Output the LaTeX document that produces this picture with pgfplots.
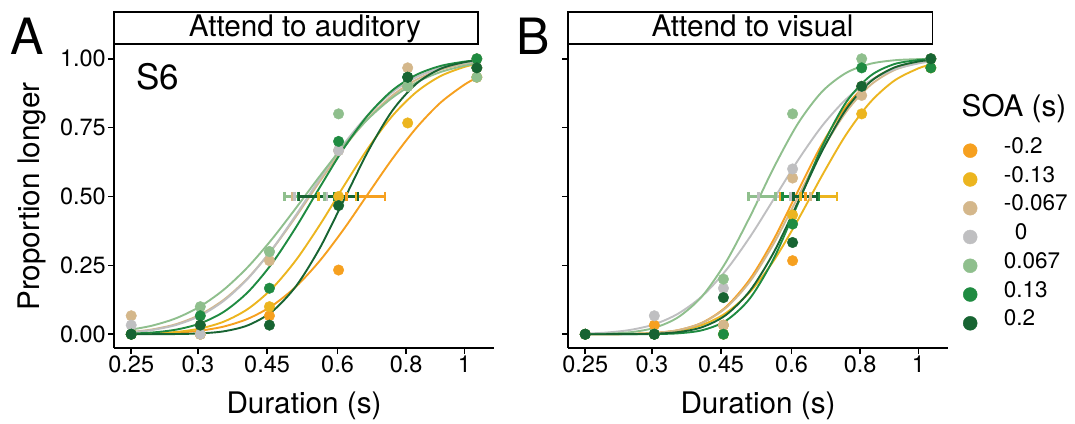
\documentclass[border=0pt]{standalone}
\usepackage{fontspec}
\setmainfont{TeX Gyre Heros}
\usepackage{pgfplots}
\usepackage{pgfplotstable}
\pgfplotsset{compat=1.18}

\definecolor{cA}{RGB}{246,160,31}
\definecolor{cB}{RGB}{236,181,31}
\definecolor{cC}{RGB}{212,183,139}
\definecolor{cD}{RGB}{191,191,193}
\definecolor{cE}{RGB}{143,191,141}
\definecolor{cF}{RGB}{31,139,65}
\definecolor{cG}{RGB}{23,100,50}

\newcommand\fs[1]{\fontsize{#1}{#1}\selectfont}

% fitted psychometric curves, panel A (attend to auditory)
\pgfplotstableread{
d      m20    m13    m067   z      p067   p13    p20
0.25   0.0008 0.0011 0.0083 0.0071 0.0170 0.0024 0.0000
0.2725 0.0020 0.0030 0.0173 0.0152 0.0310 0.0061 0.0001
0.3012 0.0054 0.0082 0.0364 0.0335 0.0579 0.0166 0.0007
0.3329 0.0129 0.0207 0.0709 0.0668 0.1006 0.0391 0.0030
0.3679 0.0281 0.0460 0.1258 0.1219 0.1625 0.0819 0.0107
0.4066 0.0564 0.0922 0.2047 0.2027 0.2449 0.1536 0.0327
0.4493 0.1032 0.1661 0.3074 0.3085 0.3457 0.2575 0.0822
0.4966 0.1734 0.2698 0.4282 0.4337 0.4590 0.3894 0.1750
0.5488 0.2682 0.3987 0.5565 0.5663 0.5757 0.5354 0.3150
0.6065 0.3833 0.5398 0.6789 0.6915 0.6860 0.6770 0.4892
0.6703 0.5104 0.6760 0.7842 0.7973 0.7820 0.7964 0.6651
0.7408 0.6360 0.7920 0.8664 0.8781 0.8583 0.8849 0.8109
0.8187 0.7486 0.8789 0.9237 0.9332 0.9141 0.9416 0.9090
0.9048 0.8400 0.9367 0.9602 0.9665 0.9515 0.9737 0.9633
1.0    0.9058 0.9703 0.9810 0.9848 0.9746 0.9896 0.9875
1.053  0.9308 0.9806 0.9875 0.9902 0.9824 0.9938 0.9934
}\curvA

% observed proportions, panel A
\pgfplotstableread{
d      m20   m13   m067  z     p067  p13   p20
0.25   0     0     0.067 0.033 0     0     0
0.3333 0     0     0.033 0     0.1   0.067 0.033
0.4444 0.067 0.1   0.267 0.3   0.3   0.167 0.033
0.5926 0.233 0.5   0.667 0.667 0.8   0.7   0.467
0.7901 0.9   0.767 0.967 0.9   0.9   0.933 0.933
1.0535 0.933 0.967 1.0   0.967 0.933 1.0   0.967
}\ptsA

% fitted psychometric curves, panel B (attend to visual)
\pgfplotstableread{
d      m20    m13    m067   z      p067   p13    p20
0.25   0.0000 0.0001 0.0001 0.0024 0.0005 0.0000 0.0000
0.2725 0.0002 0.0003 0.0003 0.0059 0.0018 0.0000 0.0001
0.3012 0.0011 0.0012 0.0012 0.0155 0.0071 0.0001 0.0004
0.3329 0.0044 0.0042 0.0046 0.0356 0.0228 0.0006 0.0018
0.3679 0.0147 0.0128 0.0149 0.0744 0.0614 0.0033 0.0076
0.4066 0.0418 0.0337 0.0412 0.1382 0.1378 0.0145 0.0256
0.4493 0.0994 0.0773 0.0962 0.2324 0.2627 0.0493 0.0702
0.4966 0.2011 0.1541 0.1924 0.3540 0.4278 0.1312 0.1587
0.5488 0.3472 0.2695 0.3320 0.4928 0.6075 0.2776 0.2998
0.6065 0.5215 0.4165 0.5000 0.6325 0.7661 0.4765 0.4809
0.6703 0.6915 0.5769 0.6680 0.7567 0.8812 0.6818 0.6659
0.7408 0.8276 0.7254 0.8076 0.8537 0.9489 0.8425 0.8172
0.8187 0.9181 0.8422 0.9038 0.9207 0.9817 0.9376 0.9162
0.9048 0.9669 0.9205 0.9588 0.9613 0.9945 0.9806 0.9682
1.0    0.9889 0.9651 0.9851 0.9831 0.9987 0.9953 0.9901
1.053  0.9941 0.9783 0.9918 0.9895 0.9994 0.9980 0.9951
}\curvB

% observed proportions, panel B
\pgfplotstableread{
d      m20   m13   m067  z     p067  p13   p20
0.25   0     0     0     0     0     0     0
0.3333 0.033 0     0     0.067 0     0     0
0.4444 0.033 0     0.033 0.167 0.2   0     0.133
0.5926 0.267 0.433 0.567 0.6   0.8   0.4   0.333
0.7901 0.9   0.8   0.867 0.9   1.0   0.967 0.9
1.0535 1.0   0.967 1.0   1.0   1.0   0.967 1.0
}\ptsB

\pgfplotsset{
  myPanel/.style={
    scale only axis, width=380pt, height=303pt,
    xmin=0.2327, xmax=1.1315, ymin=-0.05, ymax=1.05,
    axis x line*=bottom, axis y line*=left,
    axis line style={line width=1.8pt,-},
    tick align=outside, major tick length=6pt,
    tick style={line width=1.6pt, black},
    xminorticks=false, yminorticks=false,
    xtick={0.25,0.33,0.44,0.59,0.785,1},
    xticklabels={0.25,0.3,0.45,0.6,0.8,1},
    ytick={0,0.25,0.5,0.75,1},
    /pgf/number format/assume math mode=true,
    tick label style={font=\fs{23.5}, inner sep=2pt},
    clip=false,
  },
  crv/.style={smooth, line width=1.9pt, forget plot, no marks},
  ebar/.style={line width=2.3pt, mark=|, mark size=4.5pt, mark options={solid, line width=2.3pt}, forget plot},
  pts/.style={only marks, mark=*, mark size=5.3pt, forget plot},
}

\begin{document}
\begin{tikzpicture}
% ---------- Panel A ----------
\begin{axis}[xmode=log, myPanel, at={(114pt,75pt)}, anchor=south west,
  yticklabels={0.00,0.25,0.50,0.75,1.00}]
\addplot[crv,cA] table[x=d,y=m20]{\curvA};
\addplot[crv,cB] table[x=d,y=m13]{\curvA};
\addplot[crv,cC] table[x=d,y=m067]{\curvA};
\addplot[crv,cD] table[x=d,y=z]{\curvA};
\addplot[crv,cE] table[x=d,y=p067]{\curvA};
\addplot[crv,cF] table[x=d,y=p13]{\curvA};
\addplot[crv,cG] table[x=d,y=p20]{\curvA};
\addplot[ebar,cA] coordinates {(0.6126,0.5) (0.7188,0.5)};
\addplot[ebar,cB] coordinates {(0.5450,0.5) (0.6381,0.5)};
\addplot[ebar,cC] coordinates {(0.4892,0.5) (0.5634,0.5)};
\addplot[ebar,cD] coordinates {(0.4934,0.5) (0.5634,0.5)};
\addplot[ebar,cE] coordinates {(0.4733,0.5) (0.5587,0.5)};
\addplot[ebar,cF] coordinates {(0.5015,0.5) (0.5825,0.5)};
\addplot[ebar,cG] coordinates {(0.5026,0.5) (0.6424,0.5)};
\addplot[pts,cA] table[x=d,y=m20]{\ptsA};
\addplot[pts,cB] table[x=d,y=m13]{\ptsA};
\addplot[pts,cC] table[x=d,y=m067]{\ptsA};
\addplot[pts,cD] table[x=d,y=z]{\ptsA};
\addplot[pts,cE] table[x=d,y=p067]{\ptsA};
\addplot[pts,cF] table[x=d,y=p13]{\ptsA};
\addplot[pts,cG] table[x=d,y=p20]{\ptsA};
\end{axis}
% ---------- Panel B ----------
\begin{axis}[xmode=log, myPanel, at={(568pt,75pt)}, anchor=south west,
  yticklabels={},
  legend style={at={(1.040,0.6987)}, anchor=north west, draw=none, fill=none,
    inner sep=0pt, outer sep=0pt, row sep=0pt,
    font=\fs{22.5},
    nodes={inner sep=0pt, text height=17pt, text depth=11.77pt},
    /tikz/every odd column/.append style={column sep=26.7pt}},
  legend cell align=left]
\addplot[crv,cA] table[x=d,y=m20]{\curvB};
\addplot[crv,cB] table[x=d,y=m13]{\curvB};
\addplot[crv,cC] table[x=d,y=m067]{\curvB};
\addplot[crv,cD] table[x=d,y=z]{\curvB};
\addplot[crv,cE] table[x=d,y=p067]{\curvB};
\addplot[crv,cF] table[x=d,y=p13]{\curvB};
\addplot[crv,cG] table[x=d,y=p20]{\curvB};
\addplot[ebar,cA] coordinates {(0.5634,0.5) (0.6250,0.5)};
\addplot[ebar,cB] coordinates {(0.6122,0.5) (0.7139,0.5)};
\addplot[ebar,cC] coordinates {(0.5681,0.5) (0.6381,0.5)};
\addplot[ebar,cD] coordinates {(0.5143,0.5) (0.5873,0.5)};
\addplot[ebar,cE] coordinates {(0.4934,0.5) (0.5518,0.5)};
\addplot[ebar,cF] coordinates {(0.5681,0.5) (0.6597,0.5)};
\addplot[ebar,cG] coordinates {(0.5946,0.5) (0.6569,0.5)};
\addplot[pts,cA] table[x=d,y=m20]{\ptsB};
\addplot[pts,cB] table[x=d,y=m13]{\ptsB};
\addplot[pts,cC] table[x=d,y=m067]{\ptsB};
\addplot[pts,cD] table[x=d,y=z]{\ptsB};
\addplot[pts,cE] table[x=d,y=p067]{\ptsB};
\addplot[pts,cF] table[x=d,y=p13]{\ptsB};
\addplot[pts,cG] table[x=d,y=p20]{\ptsB};
\addlegendimage{only marks, mark=*, mark size=7pt, cA}\addlegendentry{-0.2}
\addlegendimage{only marks, mark=*, mark size=7pt, cB}\addlegendentry{-0.13}
\addlegendimage{only marks, mark=*, mark size=7pt, cC}\addlegendentry{-0.067}
\addlegendimage{only marks, mark=*, mark size=7pt, cD}\addlegendentry{\hspace*{11pt}0}
\addlegendimage{only marks, mark=*, mark size=7pt, cE}\addlegendentry{0.067}
\addlegendimage{only marks, mark=*, mark size=7pt, cF}\addlegendentry{0.13}
\addlegendimage{only marks, mark=*, mark size=7pt, cG}\addlegendentry{0.2}
\end{axis}
% ---------- strips, labels ----------
\draw[line width=1.8pt] (114pt,378.6pt) rectangle (478pt,411.3pt);
\node[anchor=base, inner sep=0pt, font=\fs{29.7}] at (305pt,386.3pt) {Attend to auditory};
\draw[line width=1.8pt] (568pt,378.6pt) rectangle (932.5pt,411.3pt);
\node[anchor=base, inner sep=0pt, font=\fs{29.7}] at (752.5pt,386.3pt) {Attend to visual};
\node[anchor=base west, inner sep=0pt, font=\fs{50}] at (10.3pt,368pt) {A};
\node[anchor=base west, inner sep=0pt, font=\fs{50}] at (516pt,368pt) {B};
\node[anchor=base west, inner sep=0pt, font=\fs{35}] at (136pt,333pt) {S6};
\node[rotate=90, anchor=base, inner sep=0pt, font=\fs{29.7}] at (39pt,226.5pt) {Proportion longer};
\node[anchor=base, inner sep=0pt, font=\fs{29.7}] at (304pt,10pt) {Duration (s)};
\node[anchor=base, inner sep=0pt, font=\fs{29.7}] at (758pt,10pt) {Duration (s)};
\node[anchor=base west, inner sep=0pt, font=\fs{29.7}] at (961.5pt,306.3pt) {SOA (s)};
\pgfresetboundingbox
\useasboundingbox (0pt,0pt) rectangle (1075pt,423pt);
\end{tikzpicture}
\end{document}
